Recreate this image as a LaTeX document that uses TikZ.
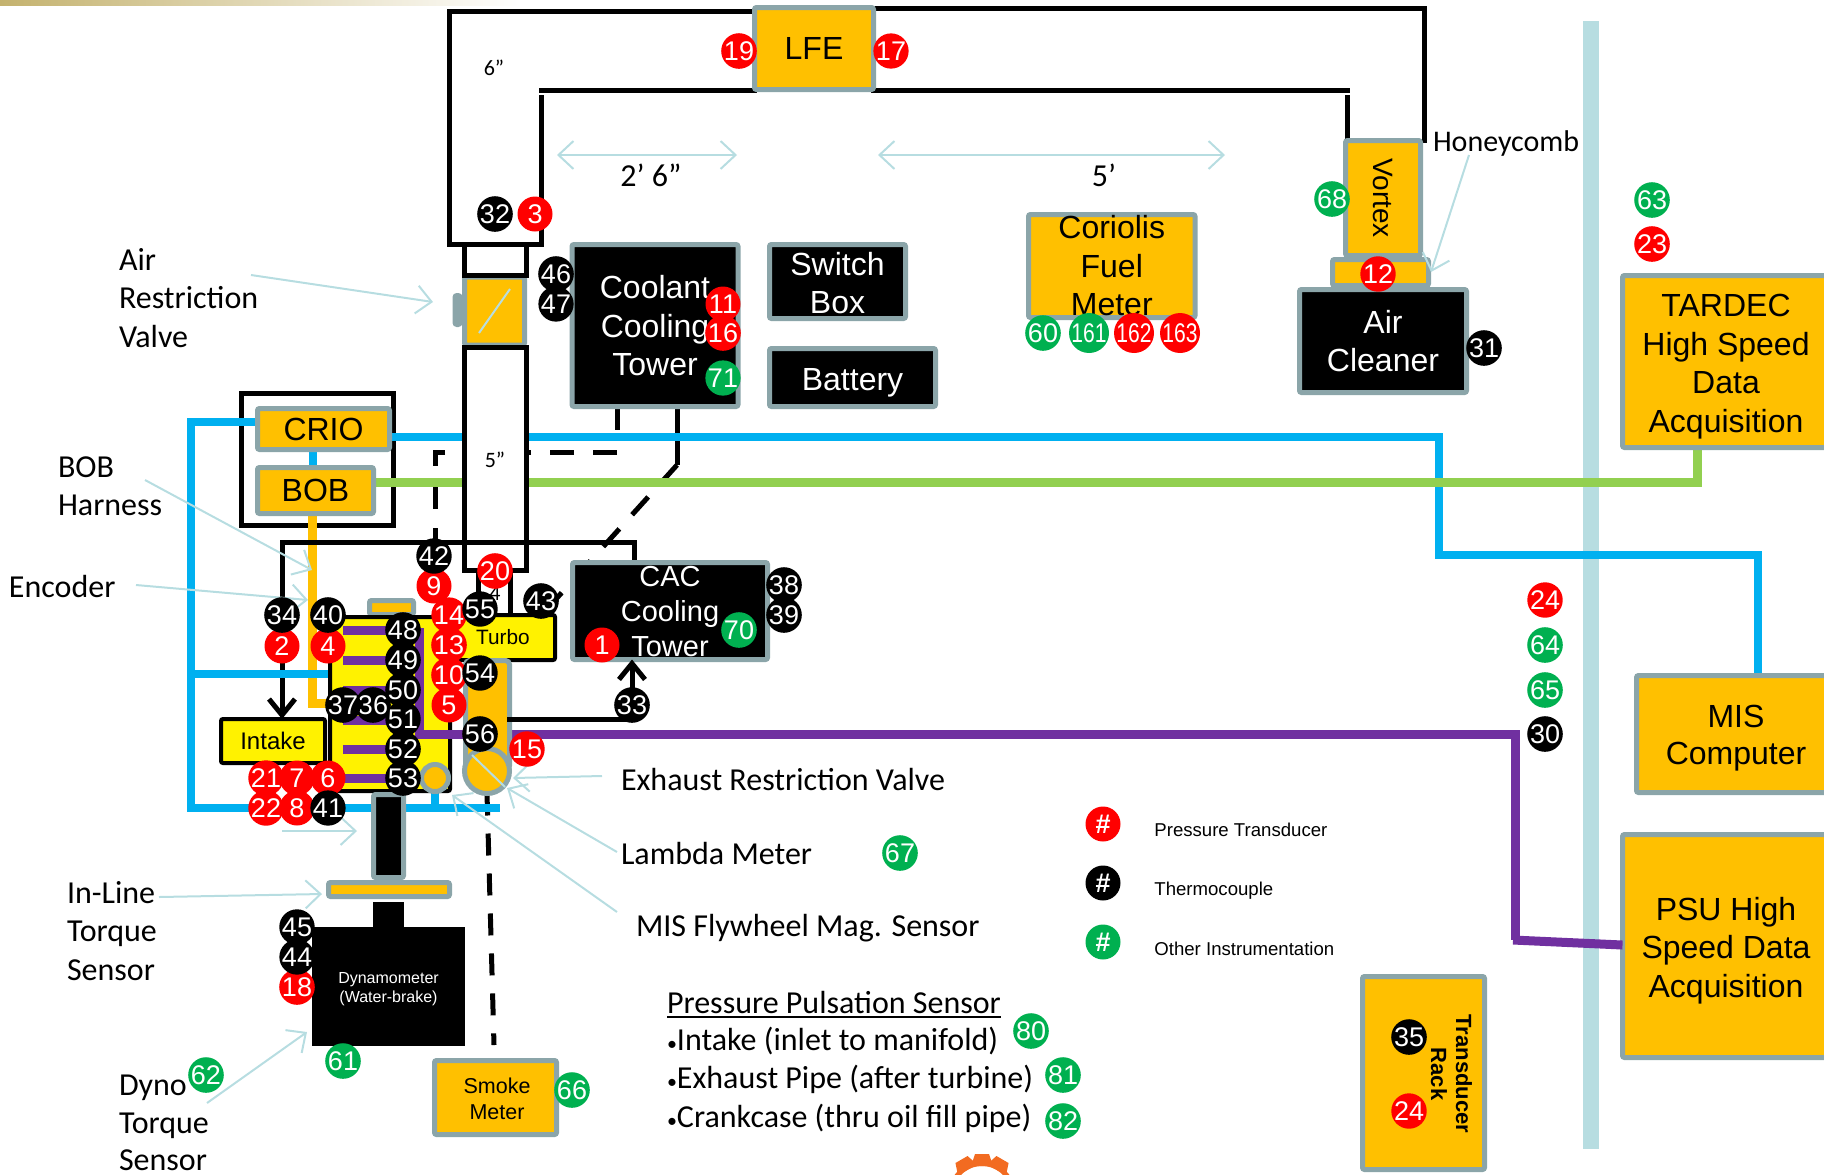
\documentclass[tikz,border=0pt]{standalone}
\usepackage{fontspec}
\setmainfont{Carlito}
\newfontfamily\arialfont{Liberation Sans}
\usetikzlibrary{arrows.meta}
\definecolor{boxorange}{HTML}{FFC000}
\definecolor{boxgray}{HTML}{8BA5A9}
\definecolor{busblue}{HTML}{00B0F0}
\definecolor{harnessgreen}{HTML}{92D050}
\definecolor{sensorpurple}{HTML}{7030A0}
\definecolor{tagred}{HTML}{FF0000}
\definecolor{taggreen}{HTML}{00B050}
\definecolor{paleblue}{HTML}{B7DDE1}
\definecolor{stripgold}{HTML}{C4B26E}
\definecolor{gearorange}{HTML}{F26B21}
\pgfdeclarelayer{wires}
\pgfsetlayers{wires,main}
\tikzset{
  graybox/.style={rectangle, draw=boxgray, line width=2.5pt, rounded corners=1pt, outer sep=0pt, inner sep=0pt, align=center, font=\arialfont\fontsize{16}{19.25}\selectfont},
  orangebox/.style={graybox, fill=boxorange, text=black},
  blackbox/.style={graybox, fill=black, text=white},
  yellowbox/.style={graybox, draw=black, line width=2pt, fill=yellow, text=black},
  boxtext/.style={inner sep=0pt, align=center, font=\arialfont\fontsize{16}{19.25}\selectfont},
  tag/.style={circle, inner sep=0pt, outer sep=0pt, minimum size=17.5pt, text=white, font=\arialfont\fontsize{13.5}{14}\selectfont},
  redtag/.style={tag, fill=tagred},
  blacktag/.style={tag, fill=black},
  greentag/.style={tag, fill=taggreen},
  note/.style={inner sep=0pt, outer sep=0pt, align=left, font=\fontsize{16}{19.25}\selectfont},
  pipe/.style={draw=black, line width=2.5pt, line cap=rect},
  buswire/.style={draw=busblue, line width=4.25pt},
  pointer/.style={draw=paleblue, line width=1pt, >={Straight Barb[length=7.5pt,width=14pt]}},
}
\newcommand{\narrowtag}[1]{\scalebox{.78}[1]{#1}}
\newcommand{\smalldot}{{\fontsize{10}{10}\selectfont •}}

\begin{document}
\begin{tikzpicture}[x=.5pt, y=-.5pt]
  \useasboundingbox (0,0) rectangle (1824,1174);

  % boxes away from the engine
  \node[orangebox, minimum width=59.5pt, minimum height=41pt] (lfe) at (814,48.5) {LFE};
  \node[orangebox, minimum width=57.5pt, minimum height=37.5pt, rotate=-90, font=\arialfont\fontsize{14}{16}\selectfont] (vortex) at (1383,198) {Vortex};
  \node[orangebox, minimum width=48pt, minimum height=13pt] (honeycomb) at (1380.5,272.5) {};
  \node[blackbox, minimum width=83.5pt, minimum height=51.5pt] (cleaner) at (1383,341) {Air\\Cleaner};
  \node[orangebox, minimum width=83.25pt, minimum height=51.5pt] (coriolis) at (1111.75,266) {Coriolis\\Fuel\\Meter};
  \node[blackbox, minimum width=83pt, minimum height=81pt] (coolant) at (655,325.5) {};
  \node[boxtext, text=white] (coolanttext) at (655,326) {Coolant\\Cooling\\Tower};
  \node[blackbox, minimum width=68pt, minimum height=37pt] (switchbox) at (837.5,281.5) {};
  \node[boxtext, text=white] (switchtext) at (837.5,283) {Switch\\Box};
  \node[blackbox, minimum width=83pt, minimum height=29pt] (battery) at (852.5,377.5) {};
  \node[boxtext, text=white] (batterytext) at (852.5,382.5) {Battery};
  \node[blackbox, minimum width=97.5pt, minimum height=48.5pt] (cac) at (670,611) {};
  \node[boxtext, text=white, font=\arialfont\fontsize{14.5}{17.5}\selectfont] (cactext) at (670,612) {CAC\\Cooling\\Tower};
  \node[orangebox, minimum width=103.5pt, minimum height=86pt] (tardec) at (1726,361.5) {};
  \node[boxtext] (tardectext) at (1726,366.5) {TARDEC\\High Speed\\Data\\Acquisition};
  \node[orangebox, minimum width=99.5pt, minimum height=58.5pt] (mis) at (1736,734) {};
  \node[boxtext, font=\arialfont\fontsize{16}{18.5}\selectfont] (mistext) at (1736,738.5) {MIS\\Computer};
  \node[orangebox, minimum width=103.5pt, minimum height=111.5pt] (psu) at (1726,946) {};
  \node[boxtext] (psutext) at (1726,950.5) {PSU High\\Speed Data\\Acquisition};
  \node[orangebox, minimum width=61pt, minimum height=96.5pt] (rack) at (1423.5,1073) {};
  \node[rotate=-90, inner sep=0pt, align=center, font=\arialfont\bfseries\fontsize{11}{12.5}\selectfont] (racktext) at (1451.5,1074) {Transducer\\Rack};
  \node[orangebox, minimum width=61pt, minimum height=37pt, font=\arialfont\fontsize{10.75}{13}\selectfont] (smoke) at (495.5,1097.5) {};
  \node[boxtext, font=\arialfont\fontsize{10.75}{13}\selectfont] (smoketext) at (497,1098.5) {Smoke\\Meter};

  % controller cabinet
  \node[orangebox, minimum width=66pt, minimum height=20.5pt] (crio) at (323.5,429) {CRIO};
  \node[orangebox, minimum width=58pt, minimum height=23pt] (bob) at (315.5,490.5) {BOB};

  % engine and what is on it
  \node[orangebox, minimum width=22pt, minimum height=7pt] (enginetab) at (391.5,607.5) {};
  \node[yellowbox, minimum width=60pt, minimum height=87pt] (engine) at (390,704) {};
  \foreach \barY in {630,660,690,720,749,778}
    \draw[sensorpurple, line width=4.5pt] (343,\barY) -- (419,\barY);
  \draw[sensorpurple, line width=4.5pt] (419,628) -- (419,734) -- (1515,734) -- (1515,940);
  \draw[sensorpurple, line width=4.5pt] (1513,940) -- (psu.west |- 0,945);
  \node[yellowbox, minimum width=52pt, minimum height=22pt, font=\arialfont\fontsize{12}{14}\selectfont] (intake) at (273,741) {\raisebox{-.5pt}{Intake}};
  \node[yellowbox, minimum width=52pt, minimum height=22.5pt, font=\arialfont\fontsize{10.4}{12}\selectfont] (turbo) at (503,637.5) {\raisebox{-1pt}{Turbo}};
  \node[orangebox, minimum width=22pt, minimum height=54.5pt, rounded corners=2pt] (exhaust) at (487.5,715) {};
  \node[orangebox, circle, minimum size=22.5pt] (restrictor) at (487,771) {};
  \node[orangebox, circle, minimum size=13.5pt] (lambda) at (435,778) {};

  % shaft and dyno
  \node[graybox, fill=black, minimum width=15pt, minimum height=41.5pt] (shaft) at (388.5,836) {};
  \node[orangebox, minimum width=60.5pt, minimum height=7pt] (inline) at (389,889.5) {};
  \node[fill=black, inner sep=0pt, outer sep=0pt, minimum width=15.5pt, minimum height=12.5pt] (stem) at (388.5,914.5) {};
  \node[fill=black, inner sep=0pt, outer sep=0pt, minimum width=76.5pt, minimum height=59.5pt] (dyno) at (388.5,986.5) {};
  \node[boxtext, text=white, font=\arialfont\fontsize{8}{9.5}\selectfont] (dynotext) at (388.5,989) {Dynamometer\\(Water-brake)};

  % lines under the boxes
  \begin{pgfonlayer}{wires}
    \shade[left color=stripgold, right color=white] (0,0) rectangle (520,5);
    \fill[paleblue] (1583,21) rectangle (1599,1149);
    \foreach \toothA in {-30,0,30}
      \fill[gearorange, rotate around={\toothA:(982,1195)}] (975,1154) -- (989,1154) -- (993,1166) -- (971,1166) -- cycle;
    \draw[gearorange, line width=2.5pt] (982,1195) circle (31.5);

    \node[draw=black, line width=2.5pt, inner sep=0pt, outer sep=0pt, minimum width=76pt, minimum height=66pt] (cabinet) at (317.5,459.5) {};

    \draw[pipe] (lfe.west |- 0,11) -- (449,11) -- (449,244) -- (541,244) -- (541,97);
    \draw[pipe] (541,90) -- (lfe.west |- 0,90);
    \draw[pipe] (lfe.east |- 0,8) -- (1424,8) -- (vortex.west -| 1424,0);
    \draw[pipe] (lfe.east |- 0,90) -- (1347,90);
    \draw[pipe] (1347,97) -- (vortex.west -| 1347,0);

    \draw[black, line width=2.5pt, dash pattern=on 12pt off 9.5pt] (617,452) -- (435,452) -- (435,545);
    \draw[black, line width=2.5pt, dash pattern=on 12pt off 9.5pt] (677,465) -- (556,599);
    \draw[black, line width=2.5pt] (coolant.south -| 617,0) -- (617,430);
    \draw[black, line width=2.5pt] (coolant.south -| 677,0) -- (677,465);
    \draw[black, line width=2.5pt, dash pattern=on 11pt off 9pt] (restrictor.south) -- (494,1045);
    \draw[black, line width=2.5pt, -{Straight Barb[length=8pt,width=13pt]}] (282,540) -- (intake.north -| 282,0);

    \draw[boxorange, line width=4.5pt] (bob.south -| 312,0) -- (312,703) -- (engine.west |- 0,703);

    \draw[buswire] (crio.west |- 0,422) -- (191,422) -- (191,808) -- (500,808);
    \draw[buswire] (191,674) -- (engine.west |- 0,674);
    \draw[buswire] (crio.south -| 313,0) -- (bob.north -| 313,0);
    \draw[buswire] (crio.east |- 0,437) -- (1439,437) -- (1439,555) -- (1758,555) -- (mis.north -| 1758,0);
    \draw[buswire] (lambda.south) -- (435,808);
    \draw[harnessgreen, line width=4.5pt] (bob.east |- 0,482) -- (1697,482) -- (tardec.south -| 1697,0);

    % air restriction valve
    \node[orangebox, minimum width=2.5pt, minimum height=14.5pt] (valvetab) at (457.5,310) {};
    \node[orangebox, minimum width=30pt, minimum height=34pt] (airvalve) at (494.5,311) {};
    \draw[pipe] (464,247) -- (464,275) -- (526,275) -- (526,247);
    \filldraw[pipe, fill=white] (464,347) rectangle (526,570);
    \draw[pipe] (478,570) -- (478,615);
    \draw[pipe] (510,570) -- (510,615);
    \draw[pipe] (cac.north -| 634,0) -- (634,542) -- (282,542) -- (282,545);
  \end{pgfonlayer}
  \draw[pipe, -{Straight Barb[length=8pt,width=13pt]}] (exhaust.east |- 0,719) -- (632,719) -- (cac.south -| 632,0);

  \node[note, font=\fontsize{11}{13}\selectfont] (size6) at (494,68) {6”};
  \node[note, font=\fontsize{11}{13}\selectfont] (size5) at (495,460) {5”};
  \node[note, font=\fontsize{11}{13}\selectfont] (size4) at (495,593) {4};
  \node[note] (span30) at (651,175) {2’ 6”};
  \node[note] (span60) at (1104,175) {5’};

  % labels
  \node[note, anchor=west] (arvlabel) at (119,298) {Air\\Restriction\\Valve};
  \node[note, anchor=west] (boblabel) at (58,486) {BOB\\Harness};
  \node[note, anchor=west] (enclabel) at (9,586) {Encoder};
  \node[note, anchor=west] (inlabel) at (67,931) {In-Line\\Torque\\Sensor};
  \node[note, anchor=west, font=\fontsize{16}{18.75}\selectfont] (dynolabel) at (119,1123) {Dyno\\Torque\\Sensor};
  \node[note, anchor=west, font=\fontsize{15}{18}\selectfont] (honeylabel) at (1433,143) {Honeycomb};
  \node[note, anchor=west] (exhlabel) at (621,779) {Exhaust Restriction Valve};
  \node[note, anchor=west] (lambdalabel) at (621,853) {Lambda Meter};
  \node[note, anchor=west] (maglabel) at (636,928) {MIS Flywheel Mag. Sensor};
  \node[note, anchor=west] (pulselabel) at (667,1002) {Pressure Pulsation Sensor};
  \draw[black, line width=.8pt] ([yshift=-2pt]pulselabel.south west) -- ([yshift=-2pt]pulselabel.south east);
  \node[note, anchor=west] (pulse1) at (667,1041) {\smalldot Intake (inlet to manifold)};
  \node[note, anchor=west] (pulse2) at (667,1079) {\smalldot Exhaust Pipe (after turbine)};
  \node[note, anchor=west] (pulse3) at (667,1118) {\smalldot Crankcase (thru oil fill pipe)};

  % pointers
  \coordinate (arvfrom) at (251,275);   \coordinate (arvto) at (433,302);
  \coordinate (bobfrom) at (145,480);   \coordinate (bobto) at (312,570);
  \coordinate (encfrom) at (136,585);   \coordinate (encto) at (308,600);
  \coordinate (belowfrom) at (282,831); \coordinate (belowto) at (357,831);
  \coordinate (infrom) at (159,897);    \coordinate (into) at (322,894);
  \coordinate (exhfrom) at (602,776);   \coordinate (exhto) at (513,778);
  \coordinate (lamfrom) at (617,852);   \coordinate (lamto) at (507,788);
  \coordinate (magfrom) at (617,912);   \coordinate (magto) at (452,795);
  \coordinate (honeyfrom) at (1469,155); \coordinate (honeyto) at (1431,272);
  \coordinate (dynofrom) at (207,1103); \coordinate (dynoto) at (307,1032);
  \coordinate (spanA) at (557,155);     \coordinate (spanB) at (737,155);
  \coordinate (spanC) at (878,155);     \coordinate (spanD) at (1225,155);
  \draw[pointer, ->] (arvfrom) -- (arvto);
  \draw[pointer, ->] (bobfrom) -- (bobto);
  \draw[pointer, ->] (encfrom) -- (encto);
  \draw[pointer, ->] (belowfrom) -- (belowto);
  \draw[pointer, ->] (infrom) -- (into);
  \draw[pointer, ->] (exhfrom) -- (exhto);
  \draw[pointer, ->] (lamfrom) -- (lamto);
  \draw[pointer, ->] (magfrom) -- (magto);
  \draw[pointer, ->] (honeyfrom) -- (honeyto);
  \draw[pointer, ->] (dynofrom) -- (dynoto);
  \draw[pointer, <->] (spanA) -- (spanB);
  \draw[pointer, <->] (spanC) -- (spanD);
  \draw[paleblue, line width=1pt] (479,333) -- (510,289);
  \draw[paleblue, line width=1pt] (472,755) -- (505,787);

  % sensors
  \node[redtag] (tag1) at (602,645) {1};
  \node[redtag] (tag2) at (282,646) {2};
  \node[redtag] (tag3) at (535,214) {3};
  \node[redtag] (tag4) at (328,646) {4};
  \node[redtag] (tag5) at (449,705) {5};
  \node[redtag] (tag6) at (328,778) {6};
  \node[redtag] (tag7) at (297,778) {7};
  \node[redtag] (tag8) at (297,808) {8};
  \node[redtag] (tag9) at (434,586) {9};
  \node[redtag] (tag10) at (449,675) {10};
  \node[redtag] (tag11) at (723,304) {11};
  \node[redtag] (tag12) at (1378,274) {12};
  \node[redtag] (tag13) at (449,645) {13};
  \node[redtag] (tag14) at (449,615) {14};
  \node[redtag] (tag15) at (527,749) {15};
  \node[redtag] (tag16) at (723,333) {16};
  \node[redtag] (tag17) at (891,51) {17};
  \node[redtag] (tag18) at (297,987) {18};
  \node[redtag] (tag19) at (739,51) {19};
  \node[redtag] (tag20) at (495,571) {20};
  \node[redtag] (tag21) at (266,778) {21};
  \node[redtag] (tag22) at (266,808) {22};
  \node[redtag] (tag23) at (1652,244) {23};
  \node[redtag] (tag24a) at (1545,600) {24};
  \node[redtag] (tag24b) at (1409,1111) {24};
  \node[redtag] (tag162) at (1134,333) {\narrowtag{162}};
  \node[redtag] (tag163) at (1180,333) {\narrowtag{163}};
  \node[blacktag] (tag30) at (1545,734) {30};
  \node[blacktag] (tag31) at (1484,348) {31};
  \node[blacktag] (tag32) at (495,214) {32};
  \node[blacktag] (tag33) at (632,705) {33};
  \node[blacktag] (tag34) at (282,615) {34};
  \node[blacktag] (tag35) at (1409,1037) {35};
  \node[blacktag] (tag36) at (373,705) {36};
  \node[blacktag] (tag37) at (343,705) {37};
  \node[blacktag] (tag38) at (784,585) {38};
  \node[blacktag] (tag39) at (784,615) {39};
  \node[blacktag] (tag40) at (328,615) {40};
  \node[blacktag] (tag41) at (328,808) {41};
  \node[blacktag] (tag42) at (434,556) {42};
  \node[blacktag] (tag43) at (541,601) {43};
  \node[blacktag] (tag44) at (297,957) {44};
  \node[blacktag] (tag45) at (297,927) {45};
  \node[blacktag] (tag46) at (556,274) {46};
  \node[blacktag] (tag47) at (556,304) {47};
  \node[blacktag] (tag48) at (403,630) {48};
  \node[blacktag] (tag49) at (403,660) {49};
  \node[blacktag] (tag50) at (403,690) {50};
  \node[blacktag] (tag51) at (403,719) {51};
  \node[blacktag] (tag52) at (403,749) {52};
  \node[blacktag] (tag53) at (403,778) {53};
  \node[blacktag] (tag54) at (480,673) {54};
  \node[blacktag] (tag55) at (480,609) {55};
  \node[blacktag] (tag56) at (480,734) {56};
  \node[greentag] (tag60) at (1043,333) {60};
  \node[greentag] (tag161) at (1089,333) {\narrowtag{161}};
  \node[greentag] (tag61) at (343,1061) {61};
  \node[greentag] (tag62) at (206,1075) {62};
  \node[greentag] (tag63) at (1652,200) {63};
  \node[greentag] (tag64) at (1545,645) {64};
  \node[greentag] (tag65) at (1545,690) {65};
  \node[greentag] (tag66) at (572,1090) {66};
  \node[greentag] (tag67) at (900,853) {67};
  \node[greentag] (tag68) at (1332,199) {68};
  \node[greentag] (tag70) at (739,630) {70};
  \node[greentag] (tag71) at (723,378) {71};
  \node[greentag] (tag80) at (1031,1031) {80};
  \node[greentag] (tag81) at (1063,1075) {81};
  \node[greentag] (tag82) at (1063,1121) {82};

  % legend
  \node[redtag] (keyred) at (1103,824) {\textbf{\#}};
  \node[blacktag] (keyblack) at (1103,883) {\textbf{\#}};
  \node[greentag] (keygreen) at (1103,942) {\textbf{\#}};
  \node[anchor=west, inner sep=0pt, font=\arialfont\fontsize{9.3}{11}\selectfont] (keytext1) at (1154,830) {Pressure Transducer};
  \node[anchor=west, inner sep=0pt, font=\arialfont\fontsize{9.3}{11}\selectfont] (keytext2) at (1154,891) {Thermocouple};
  \node[anchor=west, inner sep=0pt, font=\arialfont\fontsize{9.3}{11}\selectfont] (keytext3) at (1154,949) {Other Instrumentation};
\end{tikzpicture}
\end{document}
